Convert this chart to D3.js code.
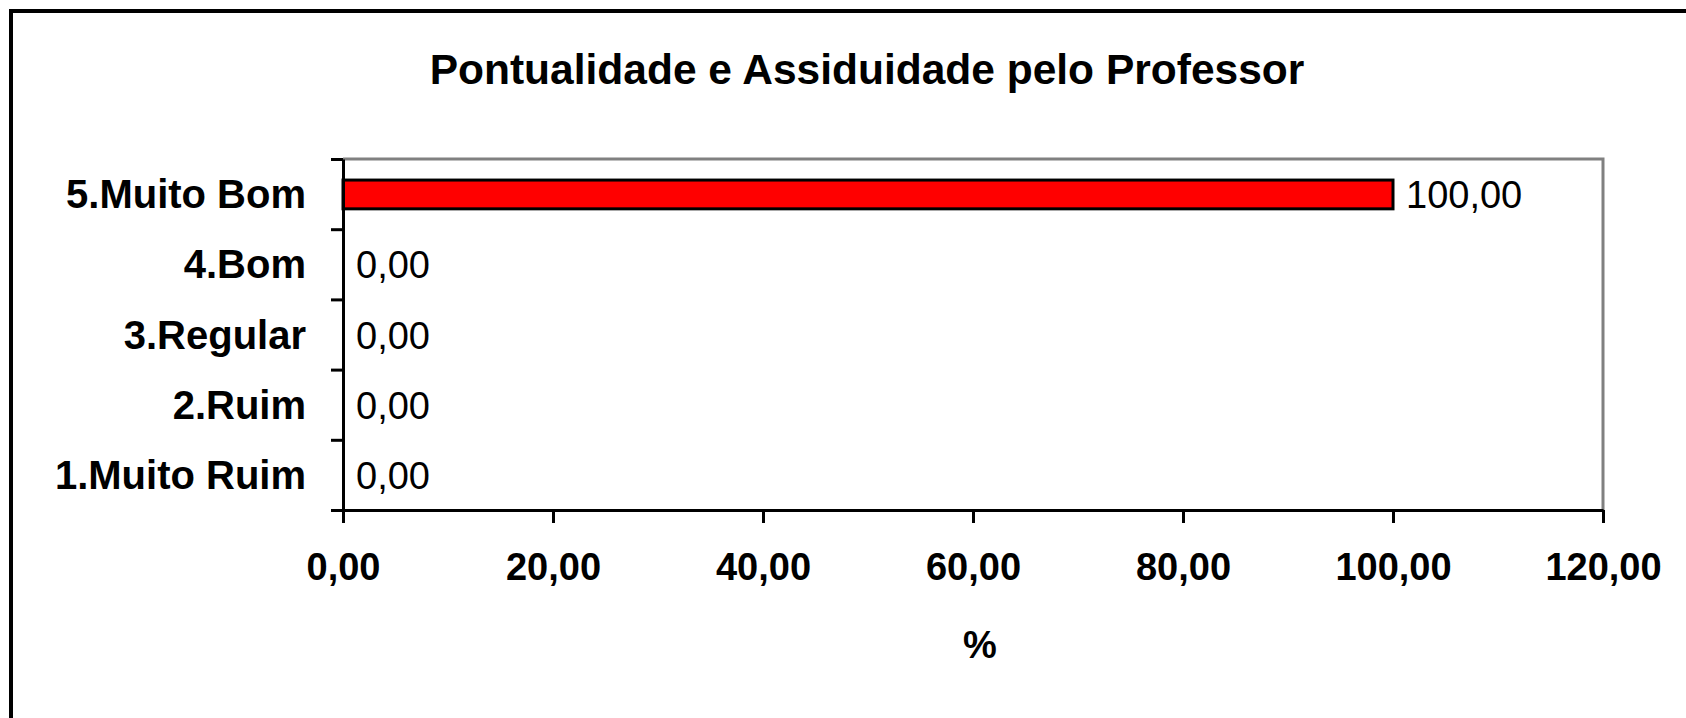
<!DOCTYPE html>
<html>
<head>
<meta charset="utf-8">
<script src="https://cdn.jsdelivr.net/npm/d3@7"></script>
<style>
  html, body { margin: 0; padding: 0; background: #fff; }
  svg text { font-family: "Liberation Sans", Arial, sans-serif; fill: #000; }
</style>
</head>
<body>
<div id="chart"></div>
<script>
// data
const categories = ["5.Muito Bom", "4.Bom", "3.Regular", "2.Ruim", "1.Muito Ruim"];
const values = [100, 0, 0, 0, 0];
const xTicks = [0, 20, 40, 60, 80, 100, 120];
const chartTitle = "Pontualidade e Assiduidade pelo Professor";
const xTitle = "%";

const c = { width: 1686, height: 718, left: 343, right: 1603, top: 159, bottom: 510 };
const fmt = v => d3.format(".2f")(v).replace(".", ",");

const svg = d3.select("#chart").append("svg")
  .attr("width", c.width)
  .attr("height", c.height);

// outer frame
svg.append("rect")
  .attr("x", 11).attr("y", 11)
  .attr("width", c.width).attr("height", c.height)
  .attr("fill", "#fff").attr("stroke", "#000").attr("stroke-width", 4);

svg.append("text")
  .attr("x", 867).attr("y", 84)
  .attr("text-anchor", "middle")
  .style("font-size", "42.5px").style("font-weight", "bold")
  .text(chartTitle);

const x = d3.scaleLinear().domain([0, 120]).range([c.left, c.right]);
const y = d3.scaleBand().domain(categories).range([c.top, c.bottom]).padding(0);
const yEdge = d3.scaleLinear().domain([0, categories.length]).range([c.top, c.bottom]);

// plot area top/right borders (gray)
svg.append("path")
  .attr("d", `M${c.left},${c.top}H${c.right}V${c.bottom}`)
  .attr("fill", "none").attr("stroke", "#808080").attr("stroke-width", 3);

// bars
const bw = y.bandwidth();
svg.selectAll("rect.bar")
  .data(values)
  .enter().append("rect")
  .attr("class", "bar")
  .attr("x", x(0))
  .attr("y", (d, i) => y(categories[i]) + bw * 0.3)
  .attr("width", d => x(d) - x(0))
  .attr("height", bw * 0.41)
  .attr("fill", d => d > 0 ? "#ff0000" : "none")
  .attr("stroke", d => d > 0 ? "#000" : "none")
  .attr("stroke-width", 3);

// value labels
svg.selectAll("text.val")
  .data(values)
  .enter().append("text")
  .attr("class", "val")
  .attr("x", d => x(d) + 13)
  .attr("y", (d, i) => y(categories[i]) + bw / 2 + 14)
  .style("font-size", "38px")
  .text(d => fmt(d));

// x axis
const xAxis = svg.append("g")
  .attr("transform", `translate(0,${c.bottom})`)
  .call(d3.axisBottom(x).tickValues(xTicks).tickFormat(fmt).tickSize(13).tickSizeOuter(0).tickPadding(30));
xAxis.select(".domain").attr("stroke", "#000").attr("stroke-width", 3);
xAxis.selectAll(".tick line").attr("stroke", "#000").attr("stroke-width", 3);
xAxis.selectAll("text")
  .style("font-family", "'Liberation Sans', Arial, sans-serif")
  .style("font-size", "38px").style("font-weight", "bold");

// y axis
const yAxis = svg.append("g")
  .attr("transform", `translate(${c.left},0)`)
  .call(d3.axisLeft(yEdge).tickValues(d3.range(categories.length + 1)).tickFormat("").tickSize(12).tickSizeOuter(0));
yAxis.select(".domain").attr("stroke", "#000").attr("stroke-width", 3);
yAxis.selectAll(".tick line").attr("stroke", "#000").attr("stroke-width", 3);

svg.selectAll("text.cat")
  .data(categories)
  .enter().append("text")
  .attr("class", "cat")
  .attr("x", 306)
  .attr("y", d => y(d) + bw / 2 + 14)
  .attr("text-anchor", "end")
  .style("font-size", "40px").style("font-weight", "bold")
  .text(d => d);

svg.append("text")
  .attr("x", 980).attr("y", 658)
  .attr("text-anchor", "middle")
  .style("font-size", "38px").style("font-weight", "bold")
  .text(xTitle);
</script>
</body>
</html>
